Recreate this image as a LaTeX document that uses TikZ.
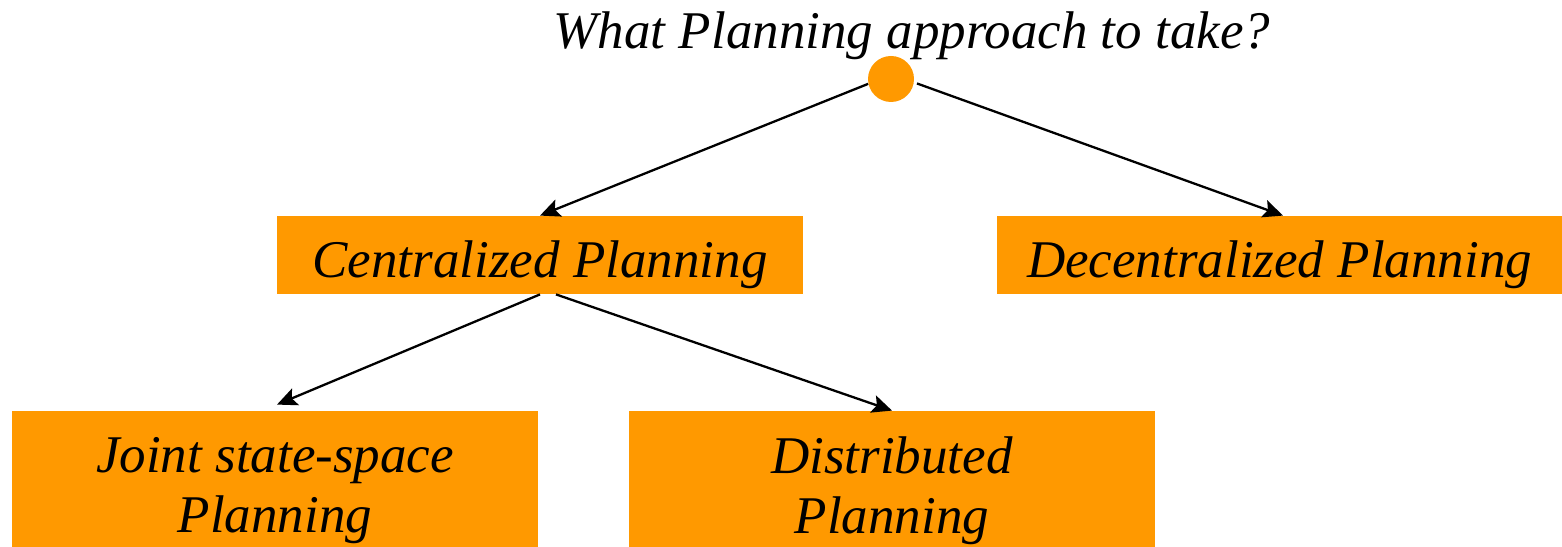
\documentclass[tikz,border=0pt]{standalone}
\usepackage{fontspec}
\setmainfont{Liberation Serif}
\usetikzlibrary{arrows.meta}
\definecolor{planorange}{RGB}{255,153,0}
\tikzset{
  plantext/.style={font=\fontsize{26.5}{30}\selectfont\itshape},
  planbox/.style={plantext, fill=planorange, minimum width=263pt, minimum height=39pt, inner sep=0pt, align=center},
  onebox/.style={planbox, text height=29pt, text depth=6pt},
  planarrow/.style={-{Stealth[length=10pt,width=9pt,inset=2pt]}, line width=1.15pt},
}
\begin{document}
\begin{tikzpicture}[x=0.5pt,y=0.5pt]
\useasboundingbox (0,0) rectangle (1562,546);
% question and root
\node[plantext, anchor=base] (question) at (912,497) {What Planning approach to take?};
\node[circle, fill=planorange, minimum size=23pt, inner sep=0pt] (root) at (891,467) {};
% first level
\node[onebox] (cent) at (540,291) {Centralized Planning};
\node[onebox, minimum width=282.5pt] (decent) at (1279.5,291) {Decentralized Planning};
% second level
\node[planbox, minimum height=80pt] (joint) at (275,55) {Joint state-space\\Planning};
\node[planbox, minimum height=80pt] (distr) at (892,55) {Distributed\\Planning};
% arrows
\draw[planarrow] (root.192) -- (cent.north);
\draw[planarrow] ([xshift=1.5pt]root.-11) -- ([xshift=1.75pt]decent.north);
\draw[planarrow] (cent.south) -- ([xshift=1pt,yshift=3pt]joint.north);
\draw[planarrow] ([xshift=8pt]cent.south) -- (distr.north);
\end{tikzpicture}
\end{document}
